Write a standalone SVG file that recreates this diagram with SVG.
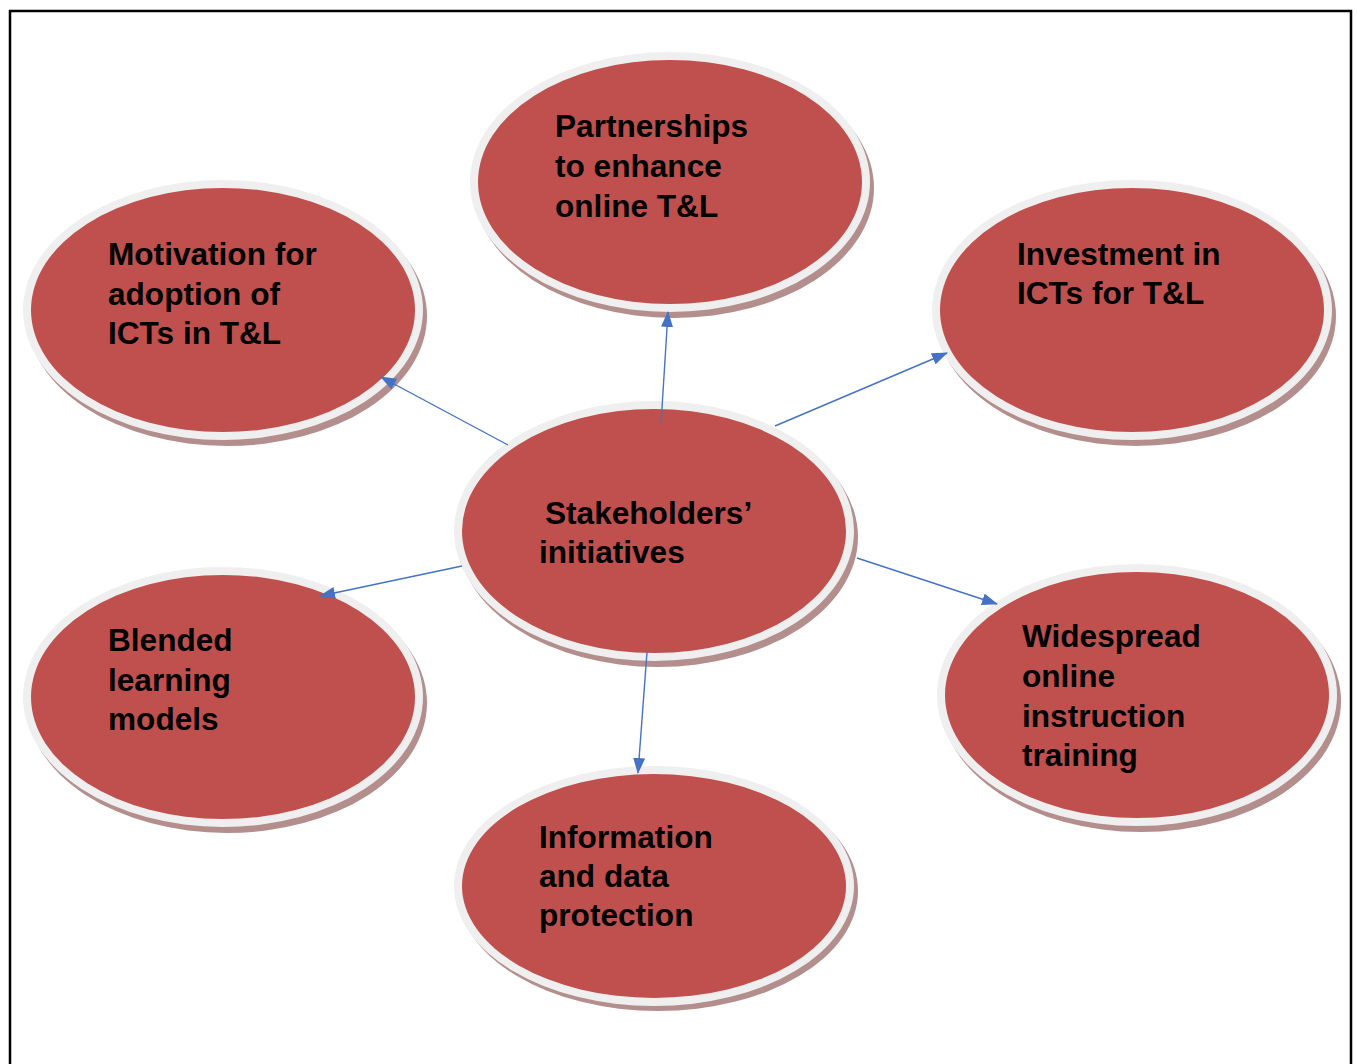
<svg xmlns="http://www.w3.org/2000/svg" width="1357" height="1064" viewBox="0 0 1357 1064">
<defs>
<style>
.sh{fill:#b38e8d}
.rg{fill:#f0efef}
.rd{fill:#c0504d}
.t{font-family:"Liberation Sans",Arial,sans-serif;font-weight:bold;font-size:31.6px;fill:#000}
.c{stroke:#4472c4;stroke-width:1.4;fill:none;marker-end:url(#ah)}
</style>
<marker id="ah" viewBox="0 0 16 12" refX="15" refY="6" markerWidth="16" markerHeight="12" markerUnits="userSpaceOnUse" orient="auto">
<path d="M0,0 L16,6 L0,12 z" fill="#4472c4"/>
</marker>
</defs>
<rect x="0" y="0" width="1357" height="1064" fill="#fff"/>
<rect x="10" y="11" width="1341" height="1070" fill="none" stroke="#000" stroke-width="2.5"/>

<g id="partnerships">
<ellipse class="sh" cx="674" cy="188" rx="200" ry="130"/>
<ellipse class="rg" cx="670" cy="182" rx="200" ry="130"/>
<ellipse class="rd" cx="670" cy="182" rx="192" ry="122"/>
<text class="t"><tspan x="555" y="137">Partnerships</tspan><tspan x="555" y="177">to enhance</tspan><tspan x="555" y="217">online T&amp;L</tspan></text>
</g>

<g id="motivation">
<ellipse class="sh" cx="227" cy="316" rx="200" ry="130"/>
<ellipse class="rg" cx="223" cy="310" rx="200" ry="130"/>
<ellipse class="rd" cx="223" cy="310" rx="192" ry="122"/>
<text class="t"><tspan x="108" y="265">Motivation for</tspan><tspan x="108" y="305">adoption of</tspan><tspan x="108" y="344">ICTs in T&amp;L</tspan></text>
</g>

<g id="investment">
<ellipse class="sh" cx="1136" cy="316" rx="200" ry="130"/>
<ellipse class="rg" cx="1132" cy="310" rx="200" ry="130"/>
<ellipse class="rd" cx="1132" cy="310" rx="192" ry="122"/>
<text class="t"><tspan x="1017" y="265">Investment in</tspan><tspan x="1017" y="304">ICTs for T&amp;L</tspan></text>
</g>

<g id="stakeholders">
<ellipse class="sh" cx="658" cy="537" rx="200" ry="130"/>
<ellipse class="rg" cx="654" cy="531" rx="200" ry="130"/>
<ellipse class="rd" cx="654" cy="531" rx="192" ry="122"/>
<text class="t"><tspan x="545" y="524">Stakeholders’</tspan><tspan x="539" y="563">initiatives</tspan></text>
</g>

<g id="blended">
<ellipse class="sh" cx="227" cy="703" rx="200" ry="130"/>
<ellipse class="rg" cx="223" cy="697" rx="200" ry="130"/>
<ellipse class="rd" cx="223" cy="697" rx="192" ry="122"/>
<text class="t"><tspan x="108" y="651">Blended</tspan><tspan x="108" y="691">learning</tspan><tspan x="108" y="730">models</tspan></text>
</g>

<g id="widespread">
<ellipse class="sh" cx="1141" cy="701" rx="200" ry="131"/>
<ellipse class="rg" cx="1137" cy="695" rx="200" ry="131"/>
<ellipse class="rd" cx="1137" cy="695" rx="192" ry="123"/>
<text class="t"><tspan x="1022" y="647">Widespread</tspan><tspan x="1022" y="687">online</tspan><tspan x="1022" y="727">instruction</tspan><tspan x="1022" y="766">training</tspan></text>
</g>

<g id="information">
<ellipse class="sh" cx="658" cy="891" rx="200" ry="120"/>
<ellipse class="rg" cx="654" cy="886" rx="200" ry="120"/>
<ellipse class="rd" cx="654" cy="886" rx="192" ry="112"/>
<text class="t"><tspan x="539" y="848">Information</tspan><tspan x="539" y="887">and data</tspan><tspan x="539" y="926">protection</tspan></text>
</g>

<g id="connectors">
<line class="c" x1="661" y1="424" x2="668" y2="312"/>
<line class="c" x1="508" y1="445" x2="381" y2="377"/>
<line class="c" x1="775" y1="426" x2="947" y2="353"/>
<line class="c" x1="462" y1="566" x2="320" y2="596"/>
<line class="c" x1="857" y1="558" x2="997" y2="604"/>
<line class="c" x1="647" y1="652" x2="638" y2="773"/>
</g>
</svg>
